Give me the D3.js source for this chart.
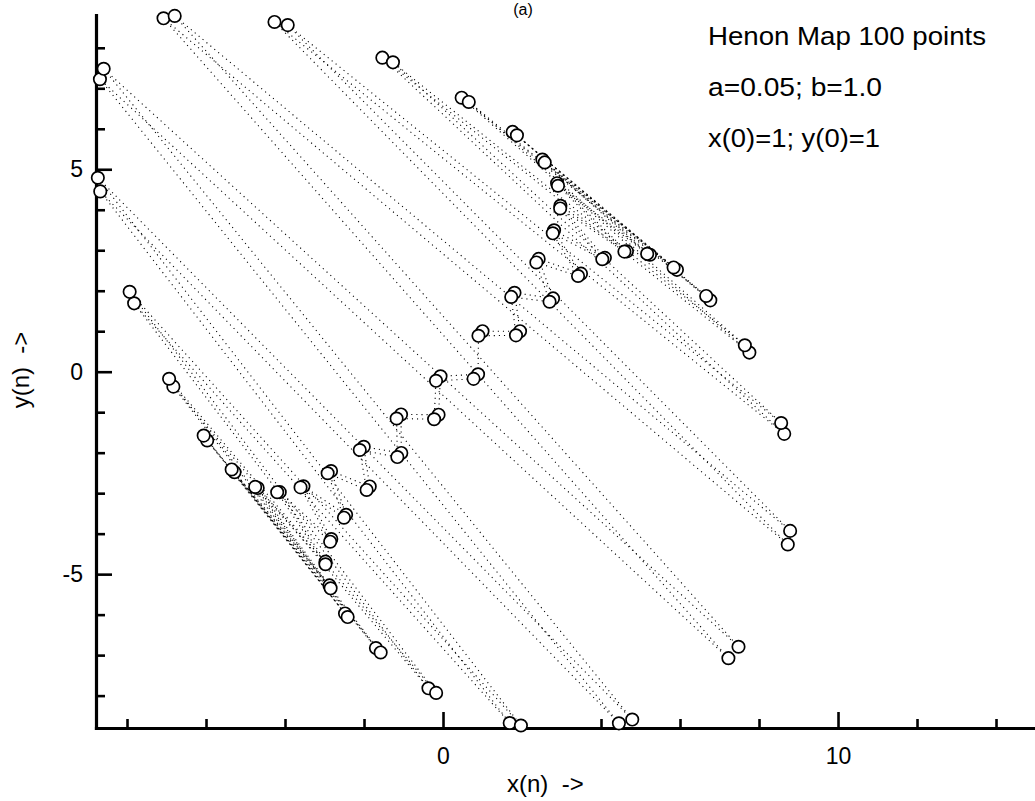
<!DOCTYPE html>
<html><head><meta charset="utf-8">
<script src="https://cdn.jsdelivr.net/npm/d3@7"></script>
<style>body{margin:0;background:#fff}svg{display:block}text{font-family:"Liberation Sans",Arial,Helvetica,sans-serif;fill:#000}</style>
</head><body>
<svg id="c" width="1035" height="801"></svg>
<script>
// Henon map, a=0.05, b=1.0, x(0)=1, y(0)=1 — 100 points (n = 0..99)
const xValues = [
  1.0000, 1.9500, 1.8099, 2.7862, 2.4217, 3.4930, 2.8117, 4.0977, 2.9721, 4.6560,
  2.8882, 5.2389, 2.5159, 5.9225, 1.7621, 6.7672, 0.4723, 7.7561, -1.5355, 8.6382,
  -4.2664, 8.7281, -7.0754, 7.2250, -8.6854, 4.4532, -8.6770, 1.6887, -7.8196, -0.3686,
  -6.8263, -1.6985, -5.9706, -2.4809, -5.2783, -2.8739, -4.6913, -2.9744, -4.1336, -2.8287,
  -3.5337, -2.4531, -2.8346, -1.8548, -2.0066, -1.0561, -1.0624, -0.1126, -0.0630, 0.8872,
  0.8976, 1.8469, 1.7271, 2.6978, 2.3631, 3.4186, 2.7788, 4.0325, 2.9658, 4.5927,
  2.9111, 5.1690, 2.5752, 5.8374, 1.8715, 6.6623, 0.6522, 7.6410, -1.2671, 8.5607,
  -3.9314, 8.7879, -6.7928, 7.4809, -8.5909, 4.7907, -8.7384, 1.9726, -7.9330, -0.1740,
  -6.9345, -1.5784, -6.0591, -2.4140, -5.3505, -2.8454, -4.7553, -2.9760, -4.1981, -2.8572,
  -3.6063, -2.5075, -2.9207, -1.9340, -2.1077, -1.1561, -1.1745, -0.2251, -0.1770, 0.7734
];
const yValues = [
  1.0000, 1.0000, 1.9500, 1.8099, 2.7862, 2.4217, 3.4930, 2.8117, 4.0977, 2.9721,
  4.6560, 2.8882, 5.2389, 2.5159, 5.9225, 1.7621, 6.7672, 0.4723, 7.7561, -1.5355,
  8.6382, -4.2664, 8.7281, -7.0754, 7.2250, -8.6854, 4.4532, -8.6770, 1.6887, -7.8196,
  -0.3686, -6.8263, -1.6985, -5.9706, -2.4809, -5.2783, -2.8739, -4.6913, -2.9744, -4.1336,
  -2.8287, -3.5337, -2.4531, -2.8346, -1.8548, -2.0066, -1.0561, -1.0624, -0.1126, -0.0630,
  0.8872, 0.8976, 1.8469, 1.7271, 2.6978, 2.3631, 3.4186, 2.7788, 4.0325, 2.9658,
  4.5927, 2.9111, 5.1690, 2.5752, 5.8374, 1.8715, 6.6623, 0.6522, 7.6410, -1.2671,
  8.5607, -3.9314, 8.7879, -6.7928, 7.4809, -8.5909, 4.7907, -8.7384, 1.9726, -7.9330,
  -0.1740, -6.9345, -1.5784, -6.0591, -2.4140, -5.3505, -2.8454, -4.7553, -2.9760, -4.1981,
  -2.8572, -3.6063, -2.5075, -2.9207, -1.9340, -2.1077, -1.1561, -1.1745, -0.2251, -0.1770
];
const xMinorTicks = [-8, -6, -4, -2, 2, 4, 6, 8, 12, 14];
const xMajorTicks = [0, 10];
const yMinorTicks = [-8, -7, -6, -4, -3, -2, -1, 1, 2, 3, 4, 6, 7, 8];
const yMajorTicks = [-5, 0, 5];
const legendLines = ["Henon Map 100 points", "a=0.05; b=1.0", "x(0)=1; y(0)=1"];

const svg = d3.select("#c");
const x = d3.scaleLinear().domain([-8.785, 14.987]).range([96, 1035]);
const y = d3.scaleLinear().domain([-8.8, 8.81]).range([728, 15]);

const pts = xValues.map((v, i) => ({x: v, y: yValues[i]}));

// dotted connecting lines
const segs = pts.slice(0, -1).map((p, i) => [p, pts[i + 1]]);
svg.append("g").selectAll("line").data(segs).join("line")
  .attr("x1", d => x(d[0].x)).attr("y1", d => y(d[0].y))
  .attr("x2", d => x(d[1].x)).attr("y2", d => y(d[1].y))
  .attr("stroke", "#000").attr("stroke-width", 1.1)
  .attr("stroke-dasharray", "1.1 4");

// axes
const fmt = d => String(d);
function styleAxis(g) {
  g.select(".domain").attr("stroke", "#000").attr("stroke-width", 3.2).attr("stroke-linecap", "square");
  g.selectAll(".tick line").attr("stroke", "#000").attr("stroke-width", 2.6);
  g.selectAll(".tick text").attr("font-size", 23).attr("fill", "#000")
    .attr("font-family", '"Liberation Sans",Arial,sans-serif');
}
const gx = svg.append("g").attr("transform", `translate(0,${y.range()[0]})`);
gx.call(d3.axisBottom(x).tickValues(xMinorTicks).tickSizeInner(-9).tickSizeOuter(0).tickFormat(""));
styleAxis(gx);
const gx2 = svg.append("g").attr("transform", `translate(0,${y.range()[0]})`);
gx2.call(d3.axisBottom(x).tickValues(xMajorTicks).tickSizeInner(-16).tickSizeOuter(0).tickPadding(20).tickFormat(fmt));
gx2.select(".domain").remove();
styleAxis(gx2);

const gy = svg.append("g").attr("transform", `translate(${x.range()[0]},0)`);
gy.call(d3.axisLeft(y).tickValues(yMinorTicks).tickSizeInner(-9).tickSizeOuter(0).tickFormat(""));
styleAxis(gy);
const gy2 = svg.append("g").attr("transform", `translate(${x.range()[0]},0)`);
gy2.call(d3.axisLeft(y).tickValues(yMajorTicks).tickSizeInner(-16).tickSizeOuter(0).tickPadding(13).tickFormat(fmt));
gy2.select(".domain").remove();
styleAxis(gy2);

// points
svg.append("g").selectAll("circle").data(pts).join("circle")
  .attr("cx", d => x(d.x)).attr("cy", d => y(d.y)).attr("r", 6.2)
  .attr("fill", "#fff").attr("stroke", "#000").attr("stroke-width", 1.7);

// axis titles
svg.append("text").attr("x", 507).attr("y", 792).attr("font-size", 24)
  .style("white-space", "pre").text("x(n)  ->");
svg.append("text").attr("transform", "translate(29,370) rotate(-90)").attr("text-anchor", "middle")
  .attr("font-size", 24).style("white-space", "pre").text("y(n)  ->");

// panel title at the top edge
svg.append("text").attr("x", 523).attr("y", 15).attr("text-anchor", "middle").attr("font-size", 16).text("(a)");

// annotation
const legendWidths = [278, 174, 172];
const legendBase = [45, 96, 147];
legendLines.forEach((t, i) => {
  svg.append("text").attr("x", 708).attr("y", legendBase[i]).attr("font-size", 25)
    .attr("textLength", legendWidths[i]).attr("lengthAdjust", "spacingAndGlyphs").text(t);
});
</script>
</body></html>
